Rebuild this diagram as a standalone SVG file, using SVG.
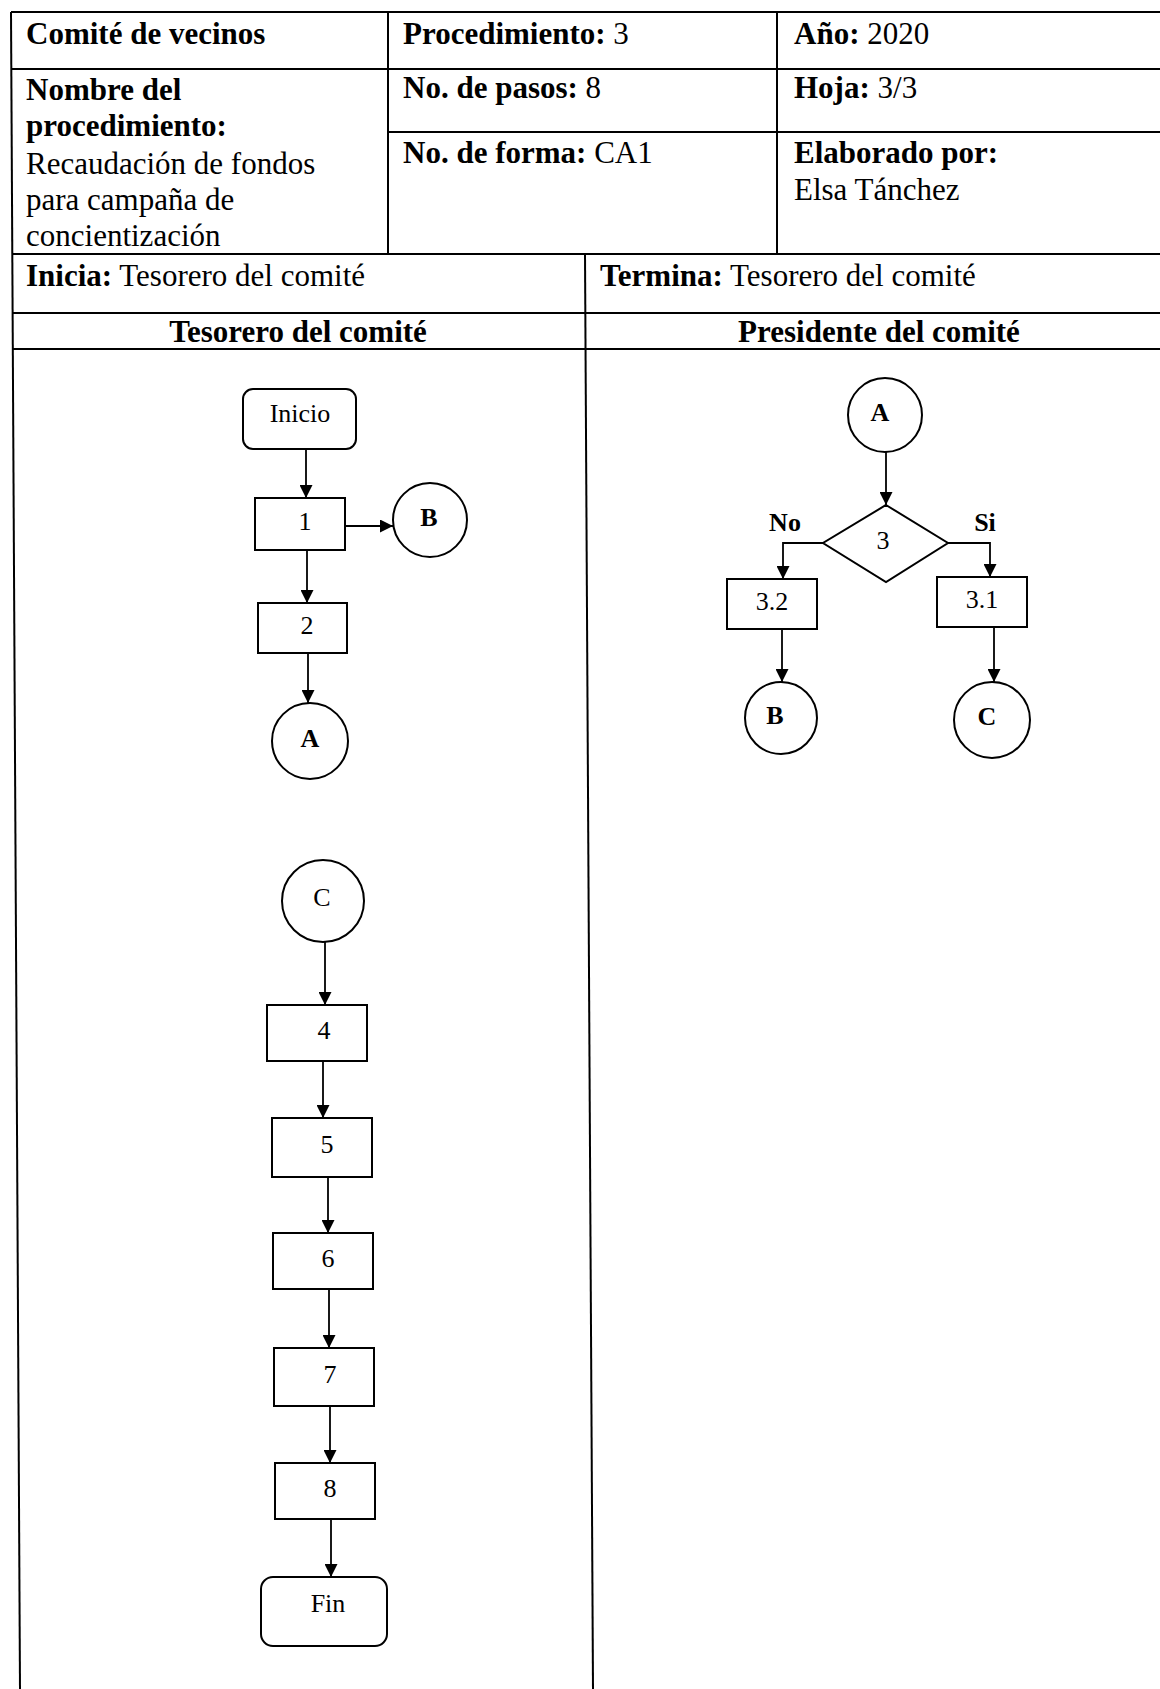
<svg xmlns="http://www.w3.org/2000/svg" width="1160" height="1689" viewBox="0 0 1160 1689">
<style>
.t{font-family:"Liberation Serif","Times New Roman",serif;font-size:31px;fill:#000}
.b{font-weight:bold}
.grid{stroke:#000;stroke-width:2;fill:none}
.shape{stroke:#000;stroke-width:2;fill:#fff}
.lbl{font-family:"Liberation Serif","Times New Roman",serif;font-size:26px;fill:#000;text-anchor:middle}
.conn{stroke:#000;stroke-width:1.8;fill:none}
</style>
<defs>
<marker id="ah" markerUnits="userSpaceOnUse" markerWidth="13" markerHeight="13" refX="13" refY="6.5" orient="auto">
<path d="M0,0 L13,6.5 L0,13 z" fill="#000"/>
</marker>
</defs>
<rect width="1160" height="1689" fill="#fff"/>
<g id="table" class="grid">
<line x1="11" y1="12" x2="1160" y2="12"/>
<line x1="11" y1="69" x2="1160" y2="69"/>
<line x1="388" y1="132" x2="1160" y2="132"/>
<line x1="12" y1="254" x2="1160" y2="254"/>
<line x1="12" y1="313" x2="1160" y2="313"/>
<line x1="12" y1="349" x2="1160" y2="349"/>
<line x1="11" y1="12" x2="20" y2="1689"/>
<line x1="388" y1="12" x2="388" y2="254"/>
<line x1="777" y1="12" x2="777" y2="254"/>
<line x1="585" y1="254" x2="593" y2="1689"/>
</g>
<g id="header-text">
<text class="t b" x="26" y="44">Comité de vecinos</text>
<text class="t" x="403" y="44"><tspan class="b">Procedimiento:</tspan> 3</text>
<text class="t" x="794" y="44"><tspan class="b">Año:</tspan> 2020</text>
<text class="t b" x="26" y="100">Nombre del</text>
<text class="t b" x="26" y="136">procedimiento:</text>
<text class="t" x="26" y="174">Recaudación de fondos</text>
<text class="t" x="26" y="210">para campaña de</text>
<text class="t" x="26" y="246">concientización</text>
<text class="t" x="403" y="98"><tspan class="b">No. de pasos:</tspan> 8</text>
<text class="t" x="794" y="98"><tspan class="b">Hoja:</tspan> 3/3</text>
<text class="t" x="403" y="163"><tspan class="b">No. de forma:</tspan> CA1</text>
<text class="t b" x="794" y="163">Elaborado por:</text>
<text class="t" x="794" y="200">Elsa Tánchez</text>
<text class="t" x="26" y="286"><tspan class="b">Inicia:</tspan> Tesorero del comité</text>
<text class="t" x="600" y="286"><tspan class="b">Termina:</tspan> Tesorero del comité</text>
<text class="t b" x="298" y="342" text-anchor="middle">Tesorero del comité</text>
<text class="t b" x="879" y="342" text-anchor="middle">Presidente del comité</text>
</g>
<g id="connectors">
<line class="conn" x1="306" y1="449" x2="306" y2="498" marker-end="url(#ah)"/>
<line class="conn" x1="345" y1="526" x2="393" y2="526" marker-end="url(#ah)"/>
<line class="conn" x1="307" y1="550" x2="307" y2="603" marker-end="url(#ah)"/>
<line class="conn" x1="308" y1="653" x2="308" y2="703" marker-end="url(#ah)"/>
<line class="conn" x1="325" y1="942" x2="325" y2="1005" marker-end="url(#ah)"/>
<line class="conn" x1="323" y1="1061" x2="323" y2="1118" marker-end="url(#ah)"/>
<line class="conn" x1="328" y1="1177" x2="328" y2="1233" marker-end="url(#ah)"/>
<line class="conn" x1="329" y1="1289" x2="329" y2="1348" marker-end="url(#ah)"/>
<line class="conn" x1="330" y1="1406" x2="330" y2="1463" marker-end="url(#ah)"/>
<line class="conn" x1="331" y1="1519" x2="331" y2="1577" marker-end="url(#ah)"/>
<line class="conn" x1="886" y1="452" x2="886" y2="505" marker-end="url(#ah)"/>
<polyline class="conn" points="823,543 783,543 783,579" marker-end="url(#ah)"/>
<polyline class="conn" points="948,543 990,543 990,577" marker-end="url(#ah)"/>
<line class="conn" x1="782" y1="629" x2="782" y2="682" marker-end="url(#ah)"/>
<line class="conn" x1="994" y1="627" x2="994" y2="682" marker-end="url(#ah)"/>
<text class="lbl b" x="785" y="531">No</text>
<text class="lbl b" x="985" y="531">Si</text>
</g>
<g id="n-inicio"><rect class="shape" x="243" y="389" width="113" height="60" rx="10"/><text class="lbl" x="300" y="422">Inicio</text></g>
<g id="n-1"><rect class="shape" x="255" y="498" width="90" height="52"/><text class="lbl" x="305" y="530">1</text></g>
<g id="n-b1"><circle class="shape" cx="430" cy="520" r="37"/><text class="lbl b" x="429" y="526">B</text></g>
<g id="n-2"><rect class="shape" x="258" y="603" width="89" height="50"/><text class="lbl" x="307" y="634">2</text></g>
<g id="n-a1"><circle class="shape" cx="310" cy="741" r="38"/><text class="lbl b" x="310" y="747">A</text></g>
<g id="n-c1"><circle class="shape" cx="323" cy="901" r="41"/><text class="lbl" x="322" y="906">C</text></g>
<g id="n-4"><rect class="shape" x="267" y="1005" width="100" height="56"/><text class="lbl" x="324" y="1039">4</text></g>
<g id="n-5"><rect class="shape" x="272" y="1118" width="100" height="59"/><text class="lbl" x="327" y="1153">5</text></g>
<g id="n-6"><rect class="shape" x="273" y="1233" width="100" height="56"/><text class="lbl" x="328" y="1267">6</text></g>
<g id="n-7"><rect class="shape" x="274" y="1348" width="100" height="58"/><text class="lbl" x="330" y="1383">7</text></g>
<g id="n-8"><rect class="shape" x="275" y="1463" width="100" height="56"/><text class="lbl" x="330" y="1497">8</text></g>
<g id="n-fin"><rect class="shape" x="261" y="1577" width="126" height="69" rx="12"/><text class="lbl" x="328" y="1612">Fin</text></g>
<g id="n-a2"><circle class="shape" cx="885" cy="415" r="37"/><text class="lbl b" x="880" y="421">A</text></g>
<g id="n-3"><polygon class="shape" points="886,505 948,543 886,582 823,543"/><text class="lbl" x="883" y="549">3</text></g>
<g id="n-32"><rect class="shape" x="727" y="579" width="90" height="50"/><text class="lbl" x="772" y="610">3.2</text></g>
<g id="n-31"><rect class="shape" x="937" y="577" width="90" height="50"/><text class="lbl" x="982" y="608">3.1</text></g>
<g id="n-b2"><circle class="shape" cx="781" cy="718" r="36"/><text class="lbl b" x="775" y="724">B</text></g>
<g id="n-c2"><circle class="shape" cx="992" cy="720" r="38"/><text class="lbl b" x="987" y="725">C</text></g>
</svg>
